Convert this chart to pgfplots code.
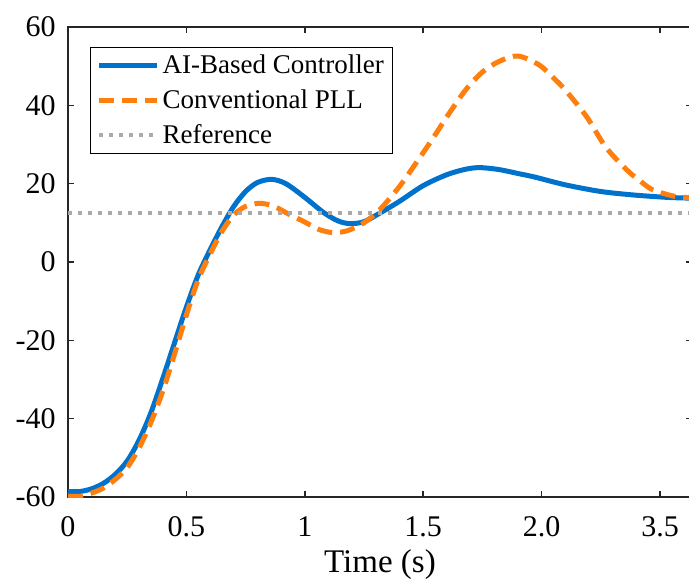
\documentclass[border=0pt]{standalone}
\usepackage{fontspec}
\setmainfont{Liberation Serif}
\usepackage{pgfplots}
\pgfplotsset{compat=1.18}
\definecolor{aiblue}{RGB}{0,114,204}
\definecolor{pllorange}{RGB}{255,127,14}
\definecolor{refgray}{RGB}{170,170,170}
\definecolor{axgray}{RGB}{38,38,38}
\begin{document}
\begin{tikzpicture}
\begin{axis}[
  name=ax,
  scale only axis,
  width=312pt, height=235pt,
  xmin=0, xmax=2.635, ymin=-60, ymax=60,
  xtick={0,0.5,1,1.5,2,2.5},
  xticklabels={0,0.5,1,1.5,2.0,3.5},
  ytick={-60,-40,-20,0,20,40,60},
  yticklabels={-60,-40,-20,0,20,40,60},
  tick align=inside,
  major tick length=3pt,
  axis line style={axgray, line width=0.75pt},
  every tick/.style={axgray, line width=0.75pt},
  tick label style={font=\fontsize{15pt}{18pt}\selectfont\rmfamily, text=black},
  xticklabel style={inner sep=0pt, anchor=north, yshift=-9.5pt},
  yticklabel style={inner sep=0pt, anchor=east, xshift=-6pt},
  xlabel={Time (s)},
  xlabel style={at={(axis description cs:0.5,0)}, anchor=north, inner sep=0pt, yshift=-26pt, font=\fontsize{16.5pt}{19pt}\selectfont},
  legend cell align=left,
  legend style={at={(0,1)}, anchor=north west, xshift=11pt, yshift=-9.8pt,
    draw=black, line width=0.6pt, inner xsep=3pt, inner ysep=2.5pt,
    font=\fontsize{13.5pt}{16pt}\selectfont, row sep=4pt,
    nodes={inner sep=1.5pt, text depth=0.2ex}},
  legend image code/.code={\draw[#1] (0pt,0pt) -- (29pt,0pt);},
]
\addplot[aiblue, line width=2.5pt, smooth] coordinates {
(0,-58.6) (0.05,-58.6) (0.1,-57.9) (0.15,-56.5) (0.2,-54.2) (0.25,-50.8)
(0.3,-45.5) (0.35,-38.5) (0.4,-29.8) (0.45,-20.6) (0.5,-11.5) (0.55,-3.3)
(0.6,3.1) (0.65,9.0) (0.7,14.2) (0.75,18.0) (0.8,20.3) (0.86,21.1) (0.92,20.0)
(1.0,16.5) (1.08,12.6) (1.14,10.5) (1.19,9.8) (1.25,10.3) (1.32,12.6) (1.4,15.5)
(1.5,19.5) (1.6,22.3) (1.68,23.7) (1.74,24.1) (1.82,23.6) (1.9,22.6) (1.97,21.7)
(2.1,19.7) (2.25,18.0) (2.39,17.1) (2.53,16.5) (2.635,16.3)
};
\addlegendentry{AI-Based Controller}
\addplot[pllorange, line width=2.5pt, smooth, dash pattern=on 7.5pt off 4pt] coordinates {
(0,-59.8) (0.05,-59.8) (0.1,-59.0) (0.15,-57.7) (0.2,-55.5) (0.25,-52.5)
(0.3,-47.5) (0.35,-41.0) (0.4,-33.0) (0.45,-23.5) (0.5,-13.5) (0.55,-4.5)
(0.6,2.0) (0.65,7.8) (0.7,12.0) (0.75,14.2) (0.81,15.0) (0.87,14.2) (0.93,12.3)
(1.0,10.2) (1.06,8.3) (1.12,7.5) (1.18,8.0) (1.25,10.0) (1.32,13.6) (1.4,19.3)
(1.47,25.3) (1.54,31.5) (1.61,38.0) (1.68,44.0) (1.75,48.5) (1.82,51.2) (1.9,52.6)
(1.99,50.3) (2.05,47.0) (2.1,43.9) (2.19,37.1) (2.27,29.4) (2.36,23.5) (2.42,20.5)
(2.47,18.4) (2.56,16.8) (2.635,16.4)
};
\addlegendentry{Conventional PLL}
\addplot[refgray, line width=2pt, dash pattern=on 2pt off 3pt] coordinates {(0,12.6) (2.635,12.6)};
\addlegendentry{Reference}
\end{axis}
\pgfresetboundingbox
\path[use as bounding box] ([shift={(-34pt,-41pt)}]ax.south west) rectangle ([shift={(310.5pt,248.5pt)}]ax.south west);
\end{tikzpicture}
\end{document}
